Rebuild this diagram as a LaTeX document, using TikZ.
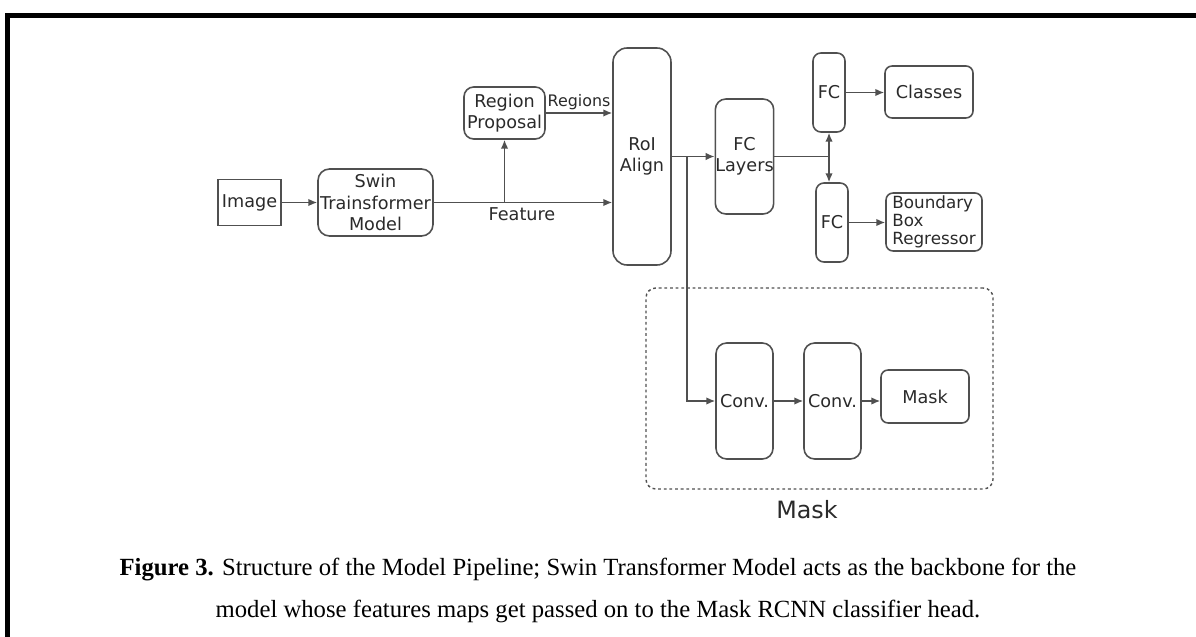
\documentclass[tikz,border=0pt]{standalone}
\usepackage{fontspec}
\setmainfont{Liberation Serif}
\newfontfamily\diagfont{DejaVu Sans}
\usetikzlibrary{arrows.meta}
\definecolor{lncol}{HTML}{505050}
\definecolor{txcol}{HTML}{2A2A2A}
\tikzset{
  px/.style 2 args={minimum width=#1*0.5669pt, minimum height=#2*0.5669pt, inner sep=0pt},
  blk/.style={draw=lncol, line width=0.9pt, text=txcol, font=\diagfont\fontsize{10}{12}\selectfont, align=center},
  arr/.style={draw=lncol, line width=0.8pt, -{Latex[length=5pt,width=4.2pt]}},
  conn/.style={draw=lncol, line width=0.8pt},
  lbl/.style={text=txcol, font=\diagfont\fontsize{10}{12}\selectfont, inner sep=0pt},
  captext/.style={text=black, font=\fontsize{14}{16}\selectfont, inner sep=0pt}
}
\begin{document}
\begin{tikzpicture}[x=0.5669pt, y=-0.5669pt]
\useasboundingbox (0,0) rectangle (1196,637);
% frame
\draw[line width=5*0.5669pt, line join=miter] (7.5,640) -- (7.5,15.5) -- (1200,15.5);

% nodes
\node[blk, px={63}{46}] (img) at (249.5,202.5) {Image};
\node[blk, px={115}{67}, rounded corners=6.5pt] (swin) at (375.5,202.5) {Swin\\Trainsformer\\Model};
\node[blk, px={81}{52}, rounded corners=5.5pt] (rp) at (504.5,113) {Region\\Proposal};
\node[blk, px={58}{217}, rounded corners=8pt] (roi) at (642,156.5) {RoI\\Align};
\node[blk, px={57}{115}, rounded corners=6pt] (fcl) at (744.5,156.5) {FC\\Layers};
\node[blk, px={32}{79}, rounded corners=4.5pt] (fc1) at (829,92.5) {FC};
\node[blk, px={32}{79}, rounded corners=4.5pt] (fc2) at (832,222.5) {FC};
\node[blk, px={88}{52}, rounded corners=4pt] (cls) at (929,92) {Classes};
\node[blk, px={96}{58}, rounded corners=4pt, align=left, font=\diagfont\fontsize{9.5}{10.4}\selectfont] (bbr) at (934,222) {Boundary\\Box\\Regressor};

% mask region
\node[draw=lncol, line width=0.8pt, dash pattern=on 1.6pt off 1.6pt, rounded corners=5.5pt, px={347}{201}] (mbox) at (819.5,388.5) {};
\node[blk, px={57}{116}, rounded corners=6pt] (conv1) at (744.5,401) {Conv.};
\node[blk, px={57}{116}, rounded corners=6pt] (conv2) at (832.5,401) {Conv.};
\node[blk, px={88}{53}, rounded corners=4pt] (mask) at (925,396.5) {Mask};
\node[lbl, font=\diagfont\fontsize{13.5}{15}\selectfont] (mlbl) at (807,510) {Mask};

% labels
\node[lbl, font=\diagfont\fontsize{9}{11}\selectfont] (regl) at (579,102) {Regions};
\node[lbl] (featl) at (522,214) {Feature};

% connectors
\coordinate (fj) at (rp.south |- swin.east);
\coordinate (br) at (687,156.5);
\coordinate (sp) at (829,156.5);
\draw[arr] (img.east) -- (swin.west);
\draw[arr] (swin.east) -- (roi.west |- swin.east);
\draw[arr] (fj) -- (rp.south);
\draw[arr] (rp.east) -- (roi.west |- rp.east);
\draw[arr] (roi.east) -- (fcl.west);
\draw[arr] (br) |- (conv1.west);
\draw[conn] (fcl.east) -- (sp);
\draw[arr] (sp) -- (fc1.south);
\draw[arr] (sp) -- (sp |- fc2.north);
\draw[arr] (fc1.east) -- (cls.west |- fc1.east);
\draw[arr] (fc2.east) -- (bbr.west |- fc2.east);
\draw[arr] (conv1.east) -- (conv2.west);
\draw[arr] (conv2.east) -- (mask.west |- conv2.east);

% caption
\node[captext] (cap1) at (598,570) {\textbf{Figure 3.} Structure of the Model Pipeline; Swin Transformer Model acts as the backbone for the};
\node[captext] (cap2) at (598,611) {model whose features maps get passed on to the Mask RCNN classifier head.};
\end{tikzpicture}
\end{document}
